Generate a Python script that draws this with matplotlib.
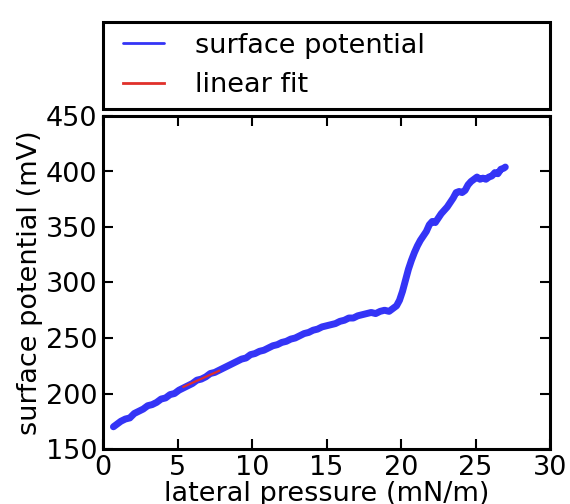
import matplotlib
matplotlib.use("Agg")
import matplotlib.pyplot as plt
from matplotlib.legend_handler import HandlerLine2D

# surface potential isotherm (lateral pressure in mN/m, potential in mV)
pressure = [0.7, 0.9, 1.2, 1.5, 1.8, 2.1, 2.4, 2.7, 3.0, 3.3, 3.6, 3.9, 4.2, 4.5,
            4.8, 5.1, 5.4, 5.7, 6.0, 6.3, 6.6, 6.9, 7.2, 7.5, 7.8, 8.1, 8.4, 8.7,
            9.0, 9.3, 9.6, 9.9, 10.2, 10.5, 10.8, 11.1, 11.4, 11.7, 12.0, 12.3,
            12.6, 12.9, 13.2, 13.5, 13.8, 14.1, 14.4, 14.7, 15.0, 15.3, 15.6,
            15.9, 16.2, 16.5, 16.8, 17.1, 17.4, 17.7, 18.0, 18.3, 18.6, 18.9,
            19.2, 19.5, 19.7, 19.9, 20.1, 20.3, 20.5, 20.7, 20.9, 21.1, 21.3,
            21.5, 21.7, 21.9, 22.1, 22.3, 22.5, 22.7, 22.9, 23.1, 23.3, 23.5,
            23.7, 23.9, 24.1, 24.3, 24.5, 24.7, 24.9, 25.1, 25.3, 25.5, 25.7,
            25.9, 26.1, 26.3, 26.5, 26.7, 26.9, 27.0]
potential = [170, 172, 175, 177, 178, 182, 184, 186, 189, 190, 192, 195, 196, 199,
             200, 203, 205, 207, 209, 212, 213, 215, 218, 219, 221, 223, 225, 227,
             229, 231, 232, 235, 236, 238, 239, 241, 243, 244, 246, 247,
             249, 250, 252, 254, 255, 257, 258, 260, 261, 262, 263,
             265, 266, 268, 268, 270, 271, 272, 273, 272, 274, 275,
             274, 277, 279, 284, 292, 302, 312, 320, 327, 333, 338,
             342, 346, 352, 355, 354, 358, 362, 365, 368, 372, 376,
             381, 382, 381, 383, 388, 391, 393, 395, 393, 394, 393,
             395, 396, 399, 398, 402, 403, 404]

# linear fit over the low-pressure region
fit_pressure = [5.4, 7.8]
fit_potential = [206, 220.5]

FS = 19.5
plt.rcParams["font.family"] = "DejaVu Sans"
plt.rcParams["font.size"] = FS

fig = plt.figure(figsize=(5.7, 5.04), dpi=100)
ax = fig.add_axes([103 / 570, 1 - 449 / 504, 447 / 570, 333 / 504])

ln1, = ax.plot(pressure, potential, color="#3434f6", lw=5,
               solid_capstyle="round", solid_joinstyle="round",
               label="surface potential")
ln2, = ax.plot(fit_pressure, fit_potential, color="#e0302a", lw=1.6,
               label="linear fit")

ax.set_xlim(0, 30)
ax.set_ylim(150, 450)
ax.set_xticks([0, 5, 10, 15, 20, 25, 30])
ax.set_yticks([150, 200, 250, 300, 350, 400, 450])
ax.tick_params(direction="in", length=7, width=1.5, top=True, right=True,
               labelsize=FS, pad=4)
for sp in ax.spines.values():
    sp.set_linewidth(2.2)

ax.set_xlabel("lateral pressure (mN/m)", fontsize=FS, labelpad=0)
ax.set_ylabel("surface potential (mV)", fontsize=FS, labelpad=2)

handler = HandlerLine2D(xpad=0.35)
leg = fig.legend(handles=[ln1, ln2], loc="lower left",
                 bbox_to_anchor=(103 / 570, 1 - 109 / 504, 447 / 570, 92 / 504),
                 mode="expand", fontsize=FS, frameon=True, fancybox=False,
                 framealpha=1, handlelength=1.85, handletextpad=1.15,
                 labelspacing=0.5, borderaxespad=0, borderpad=0.4,
                 handler_map={ln1: handler, ln2: handler})
leg.get_frame().set_edgecolor("black")
leg.get_frame().set_linewidth(2.2)
for h in leg.get_lines():
    h.set_linewidth(2)

fig.savefig("out.png", dpi=100)
